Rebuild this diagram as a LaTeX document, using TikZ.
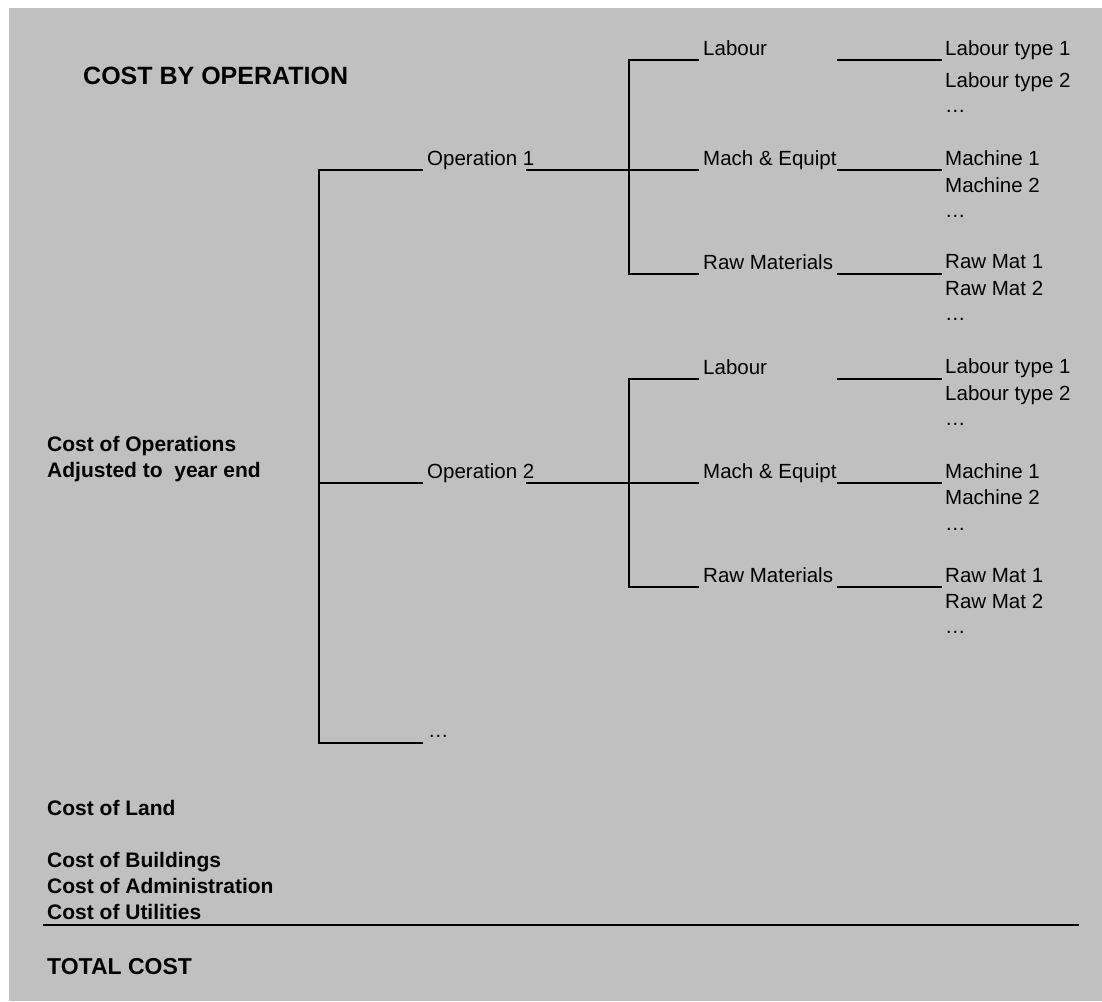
\documentclass[tikz,border=0pt]{standalone}
\usepackage{fontspec}
\setmainfont{Liberation Sans}
\definecolor{panelgrey}{HTML}{C0C0C0}
\tikzset{
    txt/.style={anchor=base west, inner sep=0pt, font=\fontsize{20.5}{24}\selectfont},
    lbl/.style={anchor=base west, inner sep=0pt, font=\fontsize{21}{25}\selectfont\bfseries},
    wire/.style={line width=2.6pt},
}
\begin{document}
\begin{tikzpicture}[x=1pt, y=-1pt]
\useasboundingbox (0, 0) rectangle (1102, 1001);
\fill[panelgrey] (9, 8) rectangle (1102, 1001);

\node[lbl, font=\fontsize{25}{30}\selectfont\bfseries] (title) at (83, 84) {COST BY OPERATION};

% trunk and operations
\coordinate (t1) at (319, 170);
\coordinate (t2) at (319, 483);
\coordinate (t3) at (319, 743);
\coordinate (b1) at (423, 170);
\coordinate (b2) at (423, 483);
\coordinate (b3) at (423, 743);
\coordinate (o1) at (526, 170);
\coordinate (o2) at (526, 483);

\node[txt] (op1) at (427, 165) {Operation 1};
\node[txt] (op2) at (427, 478) {Operation 2};
\node[txt] (opmore) at (428, 737) {…};

\draw[wire] (b1) -- (t1) -- (t3) -- (b3);
\draw[wire] (t2) -- (b2);

% cost items of each operation
\foreach \r/\y/\lab/\ra/\rb/\ya/\yb/\yc in {
    1/60/Labour/Labour type 1/Labour type 2/55/87/112,
    2/170/Mach \& Equipt/Machine 1/Machine 2/165/192/217,
    3/274/Raw Materials/Raw Mat 1/Raw Mat 2/268/295/320,
    4/379/Labour/Labour type 1/Labour type 2/373/400/425,
    5/483/Mach \& Equipt/Machine 1/Machine 2/478/504/530,
    6/587/Raw Materials/Raw Mat 1/Raw Mat 2/582/608/633}
{
    \coordinate (s\r) at (629, \y);
    \coordinate (e\r) at (699, \y);
    \coordinate (f\r) at (837, \y);
    \coordinate (h\r) at (942, \y);
    \node[txt] (m\r) at (703, {\y-5}) {\lab};
    \node[txt] (ra\r) at (945, \ya) {\ra};
    \node[txt] (rb\r) at (945, \yb) {\rb};
    \node[txt] (rc\r) at (945, \yc) {…};
    \draw[wire] (f\r) -- (h\r);
}

\draw[wire] (e1) -- (s1) -- (s3) -- (e3);
\draw[wire] (e4) -- (s4) -- (s6) -- (e6);
\draw[wire] (o1) -- (e2);
\draw[wire] (o2) -- (e5);

% left column
\node[lbl] (opcost) at (47, 451) {Cost of Operations};
\node[lbl] (adj) at (47, 477) {Adjusted to\ \ year end};
\node[lbl] (land) at (47, 815) {Cost of Land};
\node[lbl] (build) at (47, 867) {Cost of Buildings};
\node[lbl] (admin) at (47, 893) {Cost of Administration};
\node[lbl] (util) at (47, 919) {Cost of Utilities};

\coordinate (sumL) at (43, 925);
\coordinate (sumR) at (1079, 925);
\draw[wire] (sumL) -- (sumR);

\node[lbl, font=\fontsize{23}{28}\selectfont\bfseries] (total) at (47, 974) {TOTAL COST};
\end{tikzpicture}
\end{document}
